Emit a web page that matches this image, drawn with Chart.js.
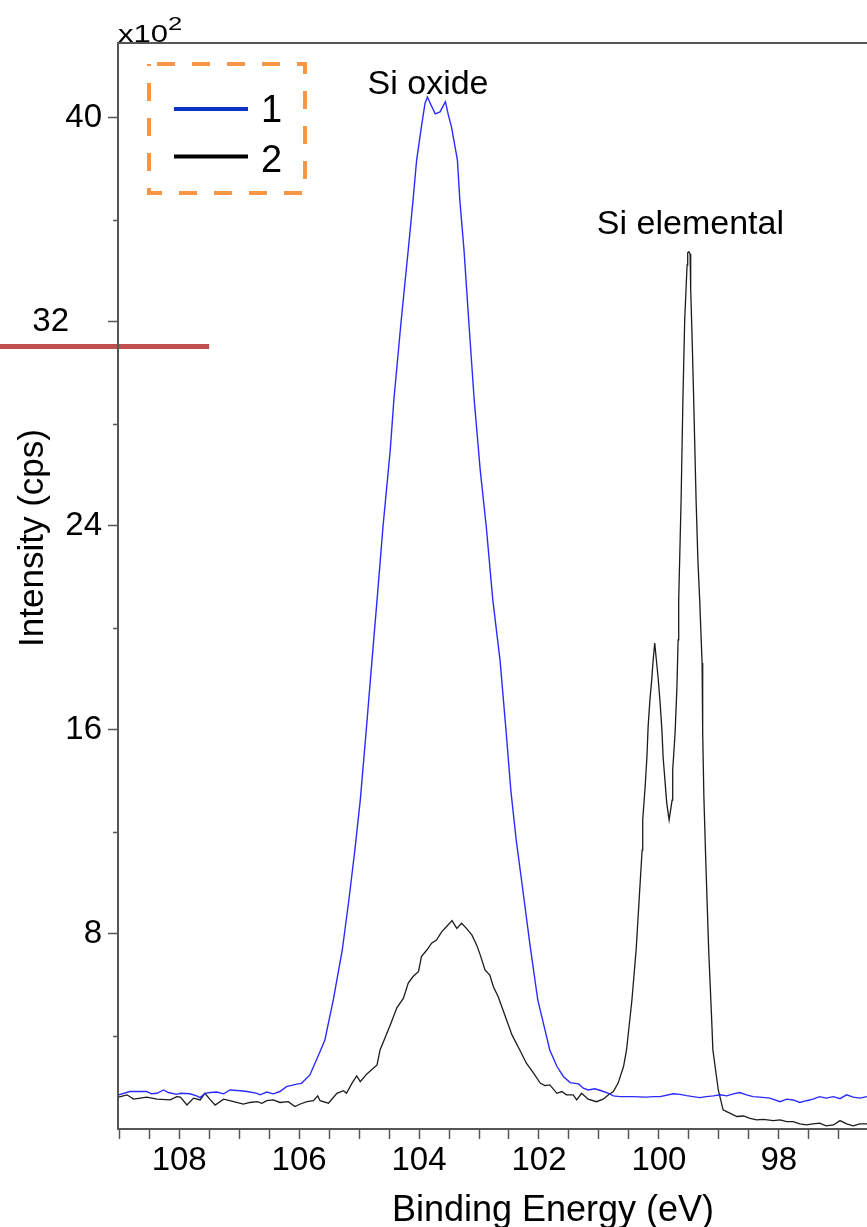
<!DOCTYPE html>
<html>
<head>
<meta charset="utf-8">
<script src="https://cdn.jsdelivr.net/npm/chart.js@4.4.1/dist/chart.umd.min.js"></script>
<style>
  html, body { margin: 0; padding: 0; background: #fff; overflow: hidden; }
  #wrap { width: 867px; height: 1227px; position: relative; }
</style>
</head>
<body>
<div id="wrap"><canvas id="c" width="867" height="1227"></canvas></div>
<script>
// Si 2p spectra: binding energy (eV) and intensity (x10^2 cps)
const ENERGY_1 = [
  109.01, 108.82, 108.54, 108.46, 108.37, 108.26, 108.18, 108.04, 107.98, 107.82,
  107.71, 107.65, 107.57, 107.48, 107.37, 107.26, 107.15, 106.98, 106.87, 106.70,
  106.65, 106.54, 106.43, 106.32, 106.21, 106.04, 105.96, 105.82, 105.65, 105.57,
  105.43, 105.28, 105.17, 105.07, 104.98, 104.88, 104.77, 104.70, 104.60, 104.48,
  104.42, 104.30, 104.18, 104.10, 104.04, 103.96, 103.90, 103.86, 103.80, 103.73,
  103.65, 103.56, 103.51, 103.46, 103.40, 103.36, 103.32, 103.25, 103.17, 103.08,
  102.98, 102.88, 102.77, 102.65, 102.55, 102.47, 102.38, 102.28, 102.15, 102.02,
  101.90, 101.82, 101.70, 101.59, 101.48, 101.34, 101.26, 101.18, 101.07, 100.96,
  100.84, 100.76, 100.65, 100.43, 100.21, 100.09, 99.98, 99.76, 99.65, 99.54,
  99.43, 99.32, 99.21, 99.09, 98.98, 98.87, 98.76, 98.65, 98.54, 98.43,
  98.32, 98.15, 97.98, 97.87, 97.76, 97.65, 97.54, 97.43, 97.32, 97.21,
  97.09, 96.98, 96.87, 96.76, 96.65, 96.53
];
const INTENSITY_1 = [
  1.69, 1.82, 1.82, 1.73, 1.75, 1.88, 1.78, 1.71, 1.75, 1.73,
  1.65, 1.58, 1.75, 1.78, 1.80, 1.73, 1.88, 1.85, 1.82, 1.75,
  1.69, 1.80, 1.73, 1.82, 2.01, 2.11, 2.14, 2.47, 3.39, 3.84,
  5.41, 7.37, 9.33, 11.29, 13.25, 16.00, 19.14, 21.10, 24.00, 26.98,
  28.94, 32.00, 34.82, 36.78, 38.35, 39.66, 40.58, 40.82, 40.51, 40.16,
  40.24, 40.64, 40.10, 39.66, 38.88, 38.35, 36.78, 34.82, 32.00, 28.94,
  26.20, 24.00, 21.10, 18.75, 16.00, 13.65, 11.69, 9.92, 7.57, 5.41,
  4.24, 3.45, 2.80, 2.40, 2.17, 2.12, 1.95, 1.88, 1.93, 1.85,
  1.75, 1.65, 1.62, 1.62, 1.60, 1.62, 1.62, 1.73, 1.71, 1.66,
  1.62, 1.58, 1.62, 1.65, 1.69, 1.65, 1.73, 1.78, 1.69, 1.62,
  1.60, 1.56, 1.42, 1.52, 1.49, 1.39, 1.46, 1.52, 1.62, 1.56,
  1.62, 1.54, 1.69, 1.60, 1.56, 1.62
];
const ENERGY_2 = [
  109.01, 108.87, 108.76, 108.54, 108.37, 108.15, 108.04, 107.98, 107.87, 107.76,
  107.65, 107.57, 107.48, 107.40, 107.26, 107.09, 106.93, 106.82, 106.70, 106.62,
  106.54, 106.43, 106.32, 106.18, 106.07, 105.98, 105.87, 105.76, 105.69, 105.65,
  105.51, 105.37, 105.26, 105.21, 105.12, 105.04, 104.98, 104.87, 104.70, 104.65,
  104.48, 104.37, 104.26, 104.18, 104.10, 104.01, 103.96, 103.87, 103.79, 103.71,
  103.62, 103.54, 103.45, 103.37, 103.29, 103.21, 103.12, 103.04, 102.98, 102.90,
  102.82, 102.76, 102.68, 102.57, 102.45, 102.32, 102.21, 102.09, 101.98, 101.90,
  101.82, 101.70, 101.62, 101.54, 101.43, 101.37, 101.29, 101.18, 101.04, 100.93,
  100.84, 100.76, 100.68, 100.59, 100.54, 100.45, 100.38, 100.33, 100.28, 100.27,
  100.23, 100.20, 100.18, 100.15, 100.12, 100.10, 100.07, 100.01, 99.98, 99.95,
  99.93, 99.90, 99.87, 99.83, 99.78, 99.77, 99.73, 99.70, 99.68, 99.67,
  99.63, 99.60, 99.57, 99.53, 99.52, 99.50, 99.48, 99.47, 99.45, 99.42,
  99.38, 99.35, 99.32, 99.28, 99.27, 99.25, 99.22, 99.17, 99.12, 99.10,
  99.01, 98.93, 98.87, 98.70, 98.59, 98.48, 98.37, 98.26, 98.09, 97.98,
  97.87, 97.76, 97.65, 97.54, 97.43, 97.32, 97.21, 97.09, 96.98, 96.87,
  96.76, 96.65, 96.53
];
const INTENSITY_2 = [
  1.60, 1.69, 1.52, 1.60, 1.52, 1.49, 1.62, 1.60, 1.29, 1.56,
  1.49, 1.75, 1.49, 1.29, 1.52, 1.42, 1.33, 1.39, 1.42, 1.36,
  1.46, 1.49, 1.39, 1.42, 1.23, 1.33, 1.42, 1.46, 1.65, 1.46,
  1.36, 1.75, 1.85, 1.75, 2.14, 2.43, 2.21, 2.51, 2.86, 3.45,
  4.43, 5.10, 5.48, 6.07, 6.33, 6.52, 7.11, 7.37, 7.64, 7.76,
  8.09, 8.29, 8.52, 8.22, 8.42, 8.22, 7.96, 7.57, 7.18, 6.59,
  6.39, 5.93, 5.54, 4.82, 4.04, 3.45, 2.93, 2.54, 2.15, 2.05,
  2.08, 1.75, 1.82, 1.69, 1.69, 1.49, 1.75, 1.52, 1.42, 1.52,
  1.69, 1.82, 2.15, 2.80, 3.45, 5.41, 7.37, 9.33, 11.29, 12.47,
  13.76, 14.94, 16.12, 17.18, 17.96, 18.63, 19.41, 17.96, 17.06, 16.00,
  14.94, 14.04, 13.14, 12.47, 13.25, 14.43, 15.88, 17.65, 19.53, 21.10,
  25.02, 28.94, 32.08, 34.24, 34.71, 34.75, 34.67, 33.25, 31.69, 28.94,
  25.02, 22.67, 21.10, 18.63, 15.88, 13.37, 10.98, 7.37, 4.63, 3.45,
  1.88, 1.10, 1.03, 0.84, 0.86, 0.77, 0.71, 0.73, 0.68, 0.71,
  0.64, 0.64, 0.55, 0.51, 0.55, 0.58, 0.47, 0.51, 0.68, 0.55,
  0.47, 0.55, 0.55
];

const SERIES_LABELS = ['1', '2'];
const X_TICK_LABELS = [108, 106, 104, 102, 100, 98];
const Y_TICK_LABELS = [8, 16, 24, 32, 40];
const X_RANGE = [96.53, 109.02];
const Y_RANGE = [0.35, 42.94];

// peak names, anchored at (energy, intensity)
const PEAK_NAMES = ['Si oxide', 'Si elemental'];
const PEAK_NAME_ENERGY = [103.85, 99.475];
const PEAK_NAME_INTENSITY = [40.94, 35.45];

// red marker bar at a fixed intensity level
const MARKER_LEVEL = 31.04;
const MARKER_END_ENERGY = 107.5;

const FONT = "'Liberation Sans', Arial, Helvetica, sans-serif";
const AXIS_GREY = '#555555';
const LINE_COLORS = ['#2b2bff', '#1c1c1c'];
const LEGEND_COLORS = ['#0a32c8', '#000000'];

const toPoints = (xs, ys) => xs.map((x, i) => ({ x: x, y: ys[i] }));

function drawStretched(ctx, text, x, y, sx) {
  ctx.save();
  ctx.translate(x, y);
  ctx.scale(sx, 1);
  ctx.fillText(text, 0, 0);
  ctx.restore();
}

const decor = {
  id: 'decor',
  beforeDraw(chart) {
    const { ctx, scales: { x, y } } = chart;
    ctx.save();
    ctx.strokeStyle = '#c0504d';
    ctx.lineWidth = 5;
    const py = y.getPixelForValue(MARKER_LEVEL);
    ctx.beginPath();
    ctx.moveTo(0, py);
    ctx.lineTo(x.getPixelForValue(MARKER_END_ENERGY), py);
    ctx.stroke();
    ctx.restore();
  },
  afterDraw(chart) {
    const { ctx, chartArea: a, scales: { x, y } } = chart;
    ctx.save();

    // top frame line
    ctx.strokeStyle = AXIS_GREY;
    ctx.lineWidth = 2;
    ctx.beginPath();
    ctx.moveTo(a.left - 1, a.top);
    ctx.lineTo(a.right, a.top);
    ctx.stroke();

    // short minor ticks on the intensity axis
    y.ticks.forEach(t => {
      if (Y_TICK_LABELS.includes(t.value)) return;
      const py = Math.round(y.getPixelForValue(t.value)) + 0.5;
      ctx.lineWidth = 1.5;
      ctx.beginPath();
      ctx.moveTo(a.left - 5, py);
      ctx.lineTo(a.left, py);
      ctx.stroke();
    });

    ctx.fillStyle = '#000';

    // exponent label
    ctx.textAlign = 'left';
    ctx.textBaseline = 'alphabetic';
    ctx.font = '23px ' + FONT;
    drawStretched(ctx, 'x10', a.left, 42, 1.35);
    ctx.font = '19px ' + FONT;
    drawStretched(ctx, '2', a.left + 50, 30, 1.35);

    // peak names
    ctx.font = '34px ' + FONT;
    ctx.textAlign = 'center';
    PEAK_NAMES.forEach((name, i) => {
      ctx.fillText(name, x.getPixelForValue(PEAK_NAME_ENERGY[i]), y.getPixelForValue(PEAK_NAME_INTENSITY[i]));
    });

    // axis titles
    ctx.font = '36px ' + FONT;
    ctx.fillText('Binding Energy (eV)', 553, 1221);
    ctx.save();
    ctx.translate(43, 538);
    ctx.rotate(-Math.PI / 2);
    ctx.font = '35px ' + FONT;
    ctx.fillText('Intensity (cps)', 0, 0);
    ctx.restore();

    // legend box
    ctx.strokeStyle = '#f79646';
    ctx.lineWidth = 4;
    ctx.setLineDash([18, 17]);
    ctx.lineDashOffset = 27;
    ctx.strokeRect(149, 64, 156, 129);
    ctx.setLineDash([]);
    const rows = [109, 156.5];
    const baselines = [122, 172];
    chart.data.datasets.forEach((ds, i) => {
      ctx.strokeStyle = LEGEND_COLORS[i];
      ctx.lineWidth = 4;
      ctx.beginPath();
      ctx.moveTo(174, rows[i]);
      ctx.lineTo(248, rows[i]);
      ctx.stroke();
      ctx.font = '38px ' + FONT;
      ctx.textAlign = 'left';
      ctx.fillStyle = '#000';
      ctx.fillText(ds.label, 261, baselines[i]);
    });

    ctx.restore();
  }
};

new Chart(document.getElementById('c').getContext('2d'), {
  type: 'line',
  data: {
    datasets: [
      { label: SERIES_LABELS[0], data: toPoints(ENERGY_1, INTENSITY_1), borderColor: LINE_COLORS[0],
        borderWidth: 1.4, pointRadius: 0, tension: 0, fill: false },
      { label: SERIES_LABELS[1], data: toPoints(ENERGY_2, INTENSITY_2), borderColor: LINE_COLORS[1],
        borderWidth: 1.3, pointRadius: 0, tension: 0, fill: false }
    ]
  },
  options: {
    responsive: false,
    animation: false,
    events: [],
    layout: { padding: { top: 43, right: 0, left: 0, bottom: 0 } },
    plugins: { legend: { display: false }, tooltip: { enabled: false } },
    scales: {
      x: {
        type: 'linear', reverse: true, min: X_RANGE[0], max: X_RANGE[1],
        ticks: {
          stepSize: 0.5, includeBounds: false, autoSkip: false, maxRotation: 0,
          padding: 2, color: '#000', font: { family: FONT, size: 33 },
          callback: v => X_TICK_LABELS.includes(v) ? String(v) : ''
        },
        grid: { drawOnChartArea: false, drawTicks: true, tickLength: 10, tickWidth: 1.5,
                tickColor: AXIS_GREY, color: AXIS_GREY },
        border: { display: true, color: AXIS_GREY, width: 2 },
        afterFit: s => { s.height = 98; }
      },
      y: {
        type: 'linear', min: Y_RANGE[0], max: Y_RANGE[1],
        ticks: {
          stepSize: 4, includeBounds: false, autoSkip: false, padding: 6,
          color: '#000', font: { family: FONT, size: 33 },
          callback: v => Y_TICK_LABELS.includes(v) ? (v === 32 ? '32\u2002\u2002' : String(v)) : ''
        },
        grid: { drawOnChartArea: false, drawTicks: true, tickLength: 10, tickWidth: 1.5,
                tickColor: c => (c.tick && Y_TICK_LABELS.includes(c.tick.value)) ? AXIS_GREY : 'rgba(0,0,0,0)',
                color: AXIS_GREY },
        border: { display: true, color: AXIS_GREY, width: 2 },
        afterFit: s => { s.width = 118; }
      }
    }
  },
  plugins: [decor]
});
</script>
</body>
</html>
